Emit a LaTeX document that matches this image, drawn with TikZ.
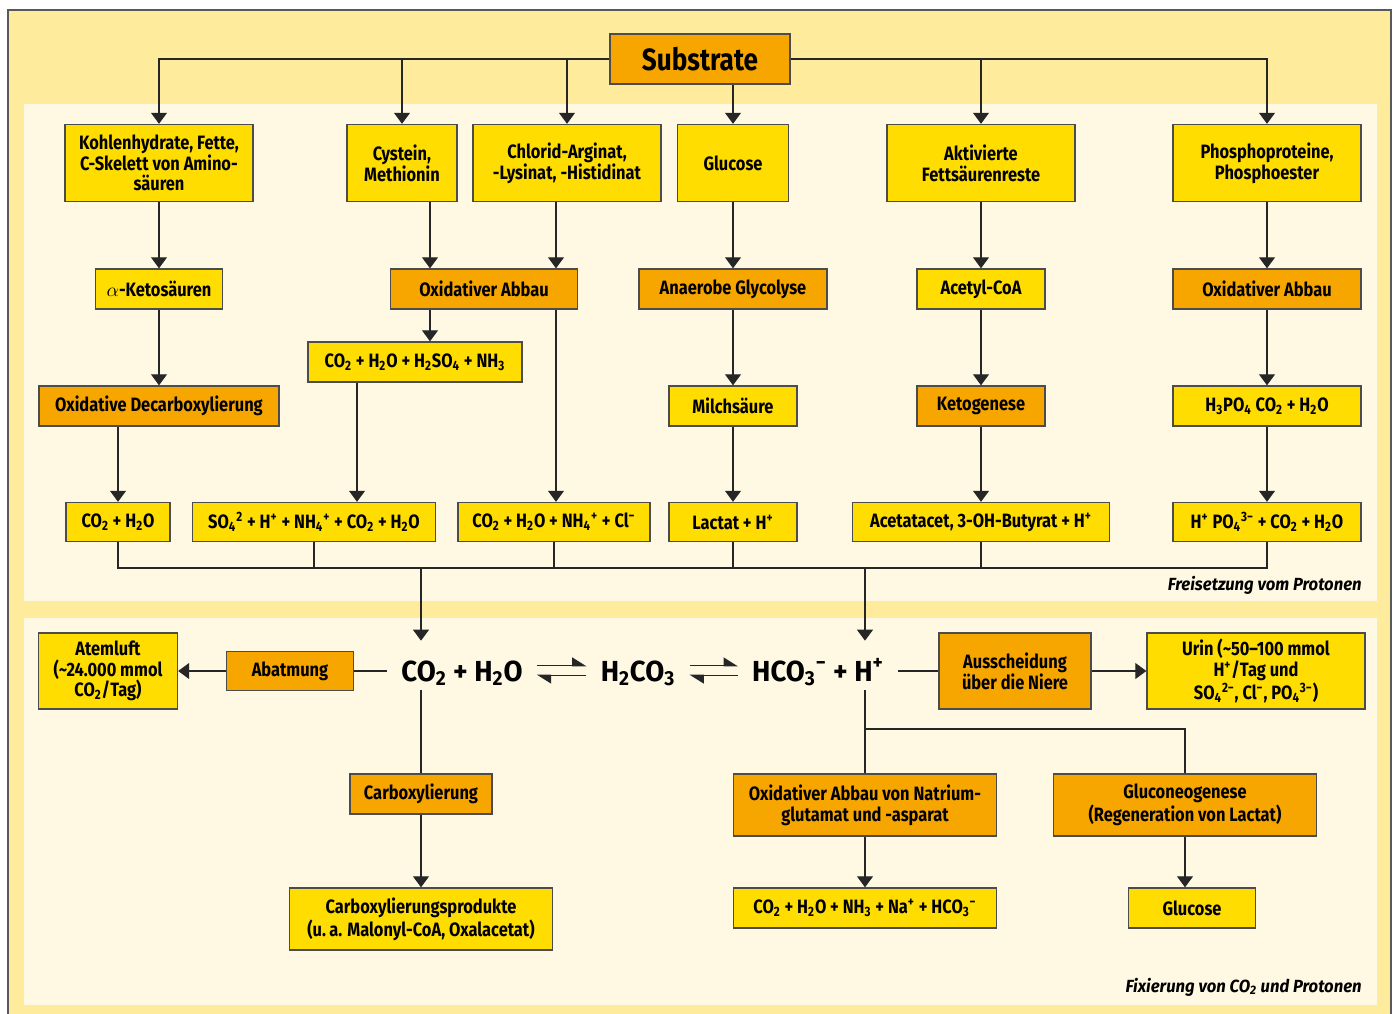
\documentclass[tikz,border=0pt]{standalone}
\usepackage{fontspec}
\setmainfont{Fira Sans}[FakeStretch=0.85]
\newfontfamily\widefam{Fira Sans}[FakeStretch=0.95]
\usetikzlibrary{arrows.meta}

\definecolor{frameyel}{RGB}{254,235,155}
\definecolor{panelyel}{RGB}{255,249,228}
\definecolor{boxyel}{RGB}{255,221,0}
\definecolor{boxorg}{RGB}{247,166,0}

\newcommand{\boxfont}{\fontsize{11}{11.8}\selectfont\bfseries}
\newcommand{\subfont}{\fontsize{17.5}{20}\selectfont\bfseries}
\newcommand{\eqfont}{\widefam\fontsize{16.5}{18}\selectfont\bfseries}
\newcommand{\lblfont}{\widefam\fontsize{10}{12}\selectfont\bfseries\itshape}
\newcommand{\sbs}[1]{\textsubscript{#1}}
\newcommand{\sps}[1]{\textsuperscript{#1}}
\newcommand{\subsup}[2]{\textsubscript{#1}\textsuperscript{#2}}

\begin{document}
\begin{tikzpicture}[x=0.02cm,y=-0.02cm,
    ybox/.style={draw=black!70, line width=0.8pt, fill=boxyel, align=center, inner sep=1pt, font=\boxfont},
    obox/.style={ybox, fill=boxorg},
    sz/.style 2 args={minimum width=#1*0.02cm, minimum height=#2*0.02cm},
    conn/.style={draw=black!85, line width=0.6pt},
    arr/.style={conn, -{Triangle[width=0.32cm,length=0.22cm]}},
    harp/.style={conn, line width=0.9pt, -{Triangle[harpoon,width=0.32cm,length=0.26cm]}},
    eqn/.style={font=\eqfont, inner xsep=0.28cm, inner ysep=0.04cm, text height=0.76cm, text depth=0.14cm},
    lbl/.style={font=\lblfont, inner sep=0pt}]
  \useasboundingbox (0,0) rectangle (1396,1014);
  % background
  \fill[white] (0,0) rectangle (1396,1014);
  \draw[fill=frameyel, draw=black!65, line width=0.8pt] (8,10) rectangle (1391,1040);
  \fill[panelyel] (24,104) rectangle (1377,601);
  \fill[panelyel] (24,618) rectangle (1377,1005);

  % upper part
  \node[obox, sz={180}{50}, font=\subfont] (sub) at (700,59) {Substrate};

  \node[ybox, sz={188}{77}] (kohl) at (159,163) {Kohlenhydrate, Fette,\\C-Skelett von Amino-\\säuren};
  \node[ybox, sz={110}{77}] (cyst) at (402,163) {Cystein,\\Methionin};
  \node[ybox, sz={188}{77}] (chlor) at (567,163) {Chlorid-Arginat,\\-Lysinat, -Histidinat};
  \node[ybox, sz={111}{77}] (glu) at (733,163) {Glucose};
  \node[ybox, sz={188}{77}] (akt) at (981,163) {Aktivierte\\Fettsäurenreste};
  \node[ybox, sz={188}{77}] (phos) at (1267,163) {Phosphoproteine,\\Phosphoester};

  \node[ybox, sz={127}{40}] (keto) at (159,289) {$\alpha$-Ketosäuren};
  \node[obox, sz={187}{40}] (oxab1) at (484,289) {Oxidativer Abbau};
  \node[obox, sz={188}{40}] (anaer) at (733,289) {Anaerobe Glycolyse};
  \node[ybox, sz={128}{40}] (acetyl) at (981,289) {Acetyl-CoA};
  \node[obox, sz={188}{40}] (oxab2) at (1267,289) {Oxidativer Abbau};

  \node[ybox, sz={214}{40}] (h2so4) at (415,362) {CO\sbs{2} + H\sbs{2}O + H\sbs{2}SO\sbs{4} + NH\sbs{3}};

  \node[obox, sz={240}{40}] (oxdec) at (159,406) {Oxidative Decarboxylierung};
  \node[ybox, sz={128}{40}] (milch) at (733,406) {Milchsäure};
  \node[obox, sz={128}{40}] (ketog) at (981,406) {Ketogenese};
  \node[ybox, sz={188}{40}] (h3po4) at (1267,406) {H\sbs{3}PO\sbs{4} CO\sbs{2} + H\sbs{2}O};

  \node[ybox, sz={104}{39}] (co2a) at (118,522) {CO\sbs{2} + H\sbs{2}O};
  \node[ybox, sz={243}{39}] (so4) at (314,522) {SO\subsup{4}{2} + H\sps{+} + NH\subsup{4}{+} + CO\sbs{2} + H\sbs{2}O};
  \node[ybox, sz={192}{39}] (nh4cl) at (554,522) {CO\sbs{2} + H\sbs{2}O + NH\subsup{4}{+} + Cl\sps{−}};
  \node[ybox, sz={128}{39}] (lact) at (733,522) {Lactat + H\sps{+}};
  \node[ybox, sz={257}{39}] (acet) at (981,522) {Acetatacet, 3-OH-Butyrat + H\sps{+}};
  \node[ybox, sz={188}{39}] (hpo4) at (1267,522) {H\sps{+} PO\subsup{4}{3−} + CO\sbs{2} + H\sbs{2}O};

  \node[lbl, anchor=base east] (lblup) at (1362,590) {Freisetzung vom Protonen};

  \draw[arr] (sub.west) -| (kohl);
  \draw[arr] (sub.west -| cyst) -- (cyst);
  \draw[arr] (sub.west -| chlor) -- (chlor);
  \draw[arr] (sub.south -| glu) -- (glu);
  \draw[arr] (sub.east -| akt) -- (akt);
  \draw[arr] (sub.east) -| (phos);

  \coordinate (cx) at (430,0);
  \coordinate (lx) at (556,0);
  \coordinate (sx) at (357,0);
  \draw[arr] (kohl) -- (keto);
  \draw[arr] (keto) -- (oxdec);
  \draw[arr] (oxdec.south -| co2a) -- (co2a);
  \draw[arr] (cx |- cyst.south) -- (cx |- oxab1.north);
  \draw[arr] (cx |- oxab1.south) -- (cx |- h2so4.north);
  \draw[arr] (sx |- h2so4.south) -- (sx |- so4.north);
  \draw[arr] (lx |- chlor.south) -- (lx |- oxab1.north);
  \draw[arr] (lx |- oxab1.south) -- (lx |- nh4cl.north);
  \draw[arr] (glu) -- (anaer);
  \draw[arr] (anaer) -- (milch);
  \draw[arr] (milch) -- (lact);
  \draw[arr] (akt) -- (acetyl);
  \draw[arr] (acetyl) -- (ketog);
  \draw[arr] (ketog) -- (acet);
  \draw[arr] (phos) -- (oxab2);
  \draw[arr] (oxab2) -- (h3po4);
  \draw[arr] (h3po4) -- (hpo4);

  % collecting line
  \coordinate (bus) at (0,568);
  \coordinate (d1) at (421,568);
  \coordinate (d2) at (865,568);
  \draw[conn] (co2a.south) |- (hpo4.south |- bus) -- (hpo4.south);
  \foreach \n in {so4,nh4cl,lact,acet}
    \draw[conn] (\n.south) -- (\n.south |- bus);

  % lower part
  \node[eqn, anchor=base] (co2) at (462,681) {CO\sbs{2} + H\sbs{2}O};
  \node[eqn, anchor=base] (hco) at (638,681) {H\sbs{2}CO\sbs{3}};
  \node[eqn, anchor=base] (hco3) at (818,681) {HCO\subsup{3}{−} + H\sps{+}};

  \node[obox, sz={127}{39}] (abat) at (290,671) {Abatmung};
  \node[ybox, sz={139}{76}] (atem) at (108,671) {Atemluft\\(\textasciitilde 24.000 mmol\\CO\sbs{2}/Tag)};
  \node[obox, sz={152}{76}] (aus) at (1015,671) {Ausscheidung\\über die Niere};
  \node[ybox, sz={218}{76}] (urin) at (1256,671) {Urin (\textasciitilde 50–100 mmol\\H\sps{+}/Tag und\\SO\subsup{4}{2−}, Cl\sps{−}, PO\subsup{4}{3−})};

  \node[obox, sz={142}{40}] (carbox) at (421,794) {Carboxylierung};
  \node[ybox, sz={263}{62}] (carbprod) at (421,919) {Carboxylierungsprodukte\\(u.\,a. Malonyl-CoA, Oxalacetat)};
  \node[obox, sz={263}{62}] (natr) at (865,805) {Oxidativer Abbau von Natrium-\\glutamat und -asparat};
  \node[ybox, sz={263}{40}] (natprod) at (865,908) {CO\sbs{2} + H\sbs{2}O + NH\sbs{3} + Na\sps{+} + HCO\subsup{3}{−}};
  \node[obox, sz={263}{62}] (gluneo) at (1185,805) {Gluconeogenese\\(Regeneration von Lactat)};
  \node[ybox, sz={127}{40}] (glu2) at (1192,908) {Glucose};

  \node[lbl, anchor=base east] (lbllow) at (1362,992) {Fixierung von CO\sbs{2} und Protonen};

  \draw[arr] (d1) -- (d1 |- co2.north);
  \draw[arr] (d2) -- (d2 |- hco3.north);
  \draw[harp] (co2.east) -- (hco.west);
  \draw[harp] ([shift={(0,10)}]hco.west) -- ([shift={(0,10)}]co2.east);
  \draw[harp] (hco.east) -- (hco3.west);
  \draw[harp] ([shift={(0,10)}]hco3.west) -- ([shift={(0,10)}]hco.east);

  \draw[conn] (abat.east -| co2.west) -- (abat.east);
  \draw[arr] (abat) -- (atem);
  \draw[conn] (aus.west -| hco3.east) -- (aus.west);
  \draw[arr] (aus) -- (urin);

  \draw[conn] (d1 |- co2.south) -- (carbox);
  \draw[arr] (carbox) -- (carbprod);
  \coordinate (split) at (865,729);
  \draw[conn] (d2 |- hco3.south) -- (natr);
  \draw[conn] (split) -| (gluneo);
  \draw[arr] (natr) -- (natprod);
  \draw[arr] (gluneo.south) -- (gluneo.south |- glu2.north);
\end{tikzpicture}
\end{document}
